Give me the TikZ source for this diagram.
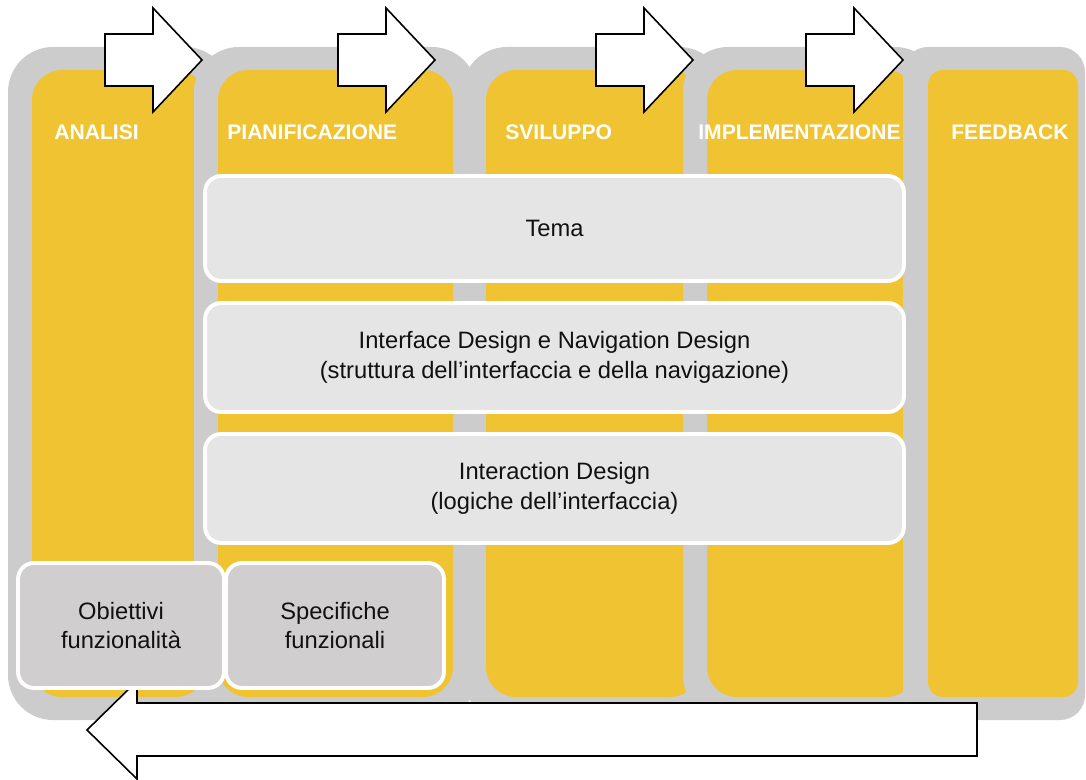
\documentclass[tikz,border=0pt]{standalone}
\usepackage{fontspec}
\setmainfont{Liberation Sans}
\usetikzlibrary{positioning}
\definecolor{Giallo}{HTML}{F0C332}
\definecolor{Grigio}{HTML}{CCCCCC}
\definecolor{Pannello}{HTML}{E5E5E5}
\definecolor{PannelloScuro}{HTML}{D0CECE}
\definecolor{Testo}{HTML}{111111}
\tikzset{
    colonna/.style={fill=Grigio, rounded corners=0.9cm},
    interno/.style={fill=Giallo, rounded corners=0.6cm},
    titolo/.style={anchor=base west, inner sep=0pt, text=white, font=\fontsize{12}{14}\selectfont\bfseries},
    pannello/.style={rectangle, rounded corners=0.32cm, draw=white, line width=2.2pt, fill=Pannello, text=Testo, align=center, font=\fontsize{13.5}{17}\selectfont, minimum width=13.98cm, minimum height=2.18cm},
    pannellino/.style={pannello, fill=PannelloScuro},
    freccia/.style={draw=black, fill=white, line width=0.9pt, line join=miter},
}

\begin{document}
\begin{tikzpicture}[x=0.02cm, y=-0.02cm]
    \useasboundingbox (0,0) rectangle (1086,780);

    % Colonne (fasi)
    \foreach \l/\r in {8/230, 194/477, 462/724, 683/940}{
        \fill[colonna] (\l,47) rectangle (\r,720);
        \fill[interno] (\l+24,70) rectangle (\r-24,697);
    }
    \fill[colonna, rounded corners=0.5cm] (903,47) rectangle (1085,720);
    \fill[interno, rounded corners=0.3cm] (928,70) rectangle (1078,697);

    % Frecce in alto
    \foreach \x in {105,338,596,806}
        \draw[freccia] (\x,34) -- ++(48,0) -- ++(0,-26) -- ++(49,52) -- ++(-49,52) -- ++(0,-26) -- ++(-48,0) -- cycle;

    % Titoli delle fasi
    \node[titolo] (analisi) at (54,140) {ANALISI};
    \node[titolo] (pianificazione) at (227,140) {PIANIFICAZIONE};
    \node[titolo] (sviluppo) at (505,140) {SVILUPPO};
    \node[titolo] (implementazione) at (698,140) {IMPLEMENTAZIONE};
    \node[titolo] (feedback) at (951,140) {FEEDBACK};

    % Freccia di ritorno
    \draw[freccia] (977,703) -- (137,703) -- (137,681) -- (87,730) -- (137,779) -- (137,756) -- (977,756) -- cycle;

    % Pannelli
    \node[pannello, minimum height=2.1cm] (tema) at (554.5,228.5) {Tema};
    \node[pannello] (interfaccia) at (554.5,357.5) {Interface Design e Navigation Design\\(struttura dell’interfaccia e della navigazione)};
    \node[pannello] (interazione) at (554.5,488.5) {Interaction Design\\(logiche dell’interfaccia)};
    \node[pannellino, minimum width=4.12cm, minimum height=2.5cm] (obiettivi) at (121,625.5) {Obiettivi\\funzionalità};
    \node[pannellino, minimum width=4.36cm, minimum height=2.5cm] (specifiche) at (335,625.5) {Specifiche\\funzionali};
\end{tikzpicture}
\end{document}
